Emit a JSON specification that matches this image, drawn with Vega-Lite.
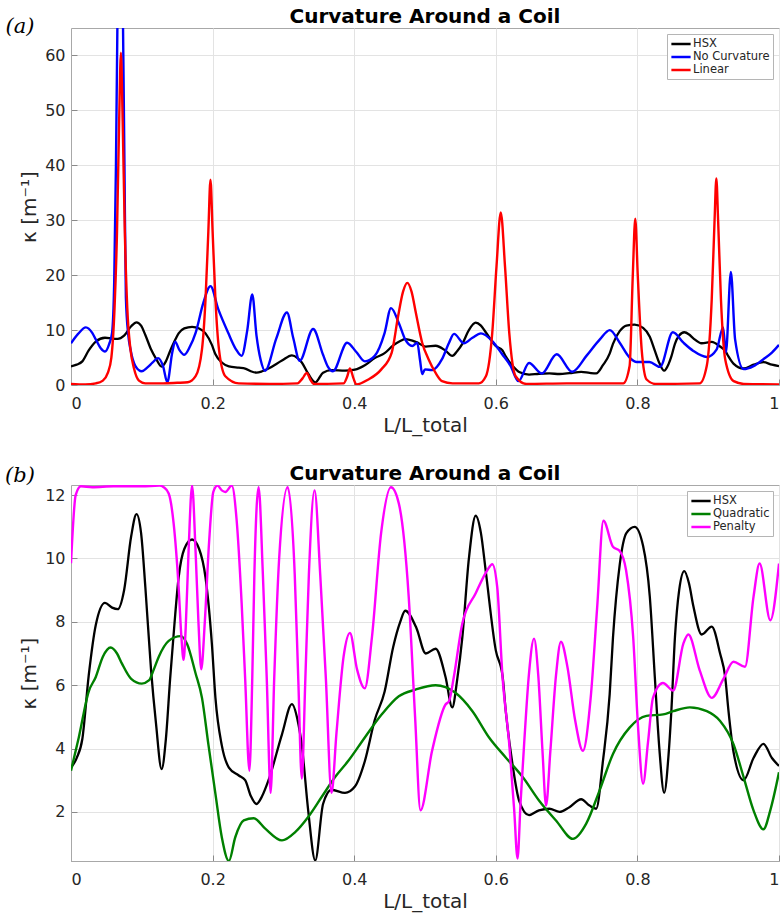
{
 "$schema": "https://vega.github.io/schema/vega-lite/v6.json",
 "background": "white",
 "padding": {"left": 4, "right": 1, "top": 6, "bottom": 3},
 "spacing": 27,
 "config": {
  "font": "DejaVu Sans",
  "view": {"stroke": "#a8a8a8", "strokeWidth": 1},
  "axis": {"labelFont": "DejaVu Sans", "labelFontSize": 16, "labelColor": "#262626", "titleFont": "DejaVu Sans", "titleFontSize": 20, "titleFontWeight": "normal", "titleColor": "#262626", "gridColor": "#e3e3e3", "gridWidth": 1, "domainColor": "#a8a8a8", "tickColor": "#8a8a8a", "tickSize": -6},
  "axisX": {"titlePadding": 4, "labelPadding": 16},
  "axisY": {"titlePadding": 5, "labelPadding": 12},
  "title": {"font": "DejaVu Sans", "fontSize": 20, "fontWeight": "bold", "color": "#000000", "baseline": "alphabetic"},
  "legend": {"orient": "top-right", "offset": 6, "padding": 3, "strokeColor": "#b5b5b5", "fillColor": "white", "labelFont": "DejaVu Sans", "labelFontSize": 11.5, "labelColor": "#262626", "symbolType": "M-1.75,0H1.75", "symbolSize": 121, "symbolStrokeWidth": 2.5, "symbolOffset": 4, "labelOffset": 5, "rowPadding": 0, "cornerRadius": 0}
 },
 "resolve": {"scale": {"color": "independent"}, "legend": {"color": "independent"}},
 "datasets": {
  "hsx": [{"x":0,"y":3.4},{"x":0.008,"y":3.7},{"x":0.016,"y":4.3},{"x":0.025,"y":6.3},{"x":0.035,"y":7.9},{"x":0.048,"y":8.6},{"x":0.058,"y":8.45},{"x":0.066,"y":8.4},{"x":0.075,"y":9.0},{"x":0.085,"y":10.7},{"x":0.0925,"y":11.4},{"x":0.099,"y":10.8},{"x":0.105,"y":9.1},{"x":0.113,"y":6.5},{"x":0.12,"y":4.8},{"x":0.128,"y":3.35},{"x":0.134,"y":4.3},{"x":0.14,"y":6.2},{"x":0.146,"y":7.9},{"x":0.152,"y":9.4},{"x":0.16,"y":10.3},{"x":0.171,"y":10.6},{"x":0.181,"y":10.3},{"x":0.19,"y":9.4},{"x":0.199,"y":7.3},{"x":0.204,"y":5.6},{"x":0.213,"y":4.1},{"x":0.223,"y":3.4},{"x":0.237,"y":3.15},{"x":0.246,"y":3.0},{"x":0.254,"y":2.5},{"x":0.262,"y":2.25},{"x":0.27,"y":2.5},{"x":0.279,"y":3.0},{"x":0.298,"y":4.45},{"x":0.312,"y":5.4},{"x":0.32,"y":4.9},{"x":0.326,"y":4.1},{"x":0.335,"y":2.05},{"x":0.345,"y":0.47},{"x":0.356,"y":2.25},{"x":0.368,"y":2.7},{"x":0.387,"y":2.6},{"x":0.401,"y":2.8},{"x":0.415,"y":3.6},{"x":0.429,"y":4.9},{"x":0.443,"y":5.8},{"x":0.455,"y":7.2},{"x":0.465,"y":8.0},{"x":0.472,"y":8.35},{"x":0.488,"y":7.8},{"x":0.501,"y":7.0},{"x":0.515,"y":7.15},{"x":0.529,"y":6.26},{"x":0.5385,"y":5.3},{"x":0.5456,"y":6.2},{"x":0.5527,"y":7.5},{"x":0.562,"y":10.0},{"x":0.5716,"y":11.35},{"x":0.579,"y":10.8},{"x":0.5858,"y":9.6},{"x":0.6,"y":7.1},{"x":0.6095,"y":6.3},{"x":0.614,"y":5.2},{"x":0.6236,"y":3.5},{"x":0.633,"y":2.35},{"x":0.647,"y":1.9},{"x":0.661,"y":2.05},{"x":0.6757,"y":2.1},{"x":0.69,"y":2.0},{"x":0.704,"y":2.15},{"x":0.7206,"y":2.4},{"x":0.7324,"y":2.2},{"x":0.7418,"y":2.1},{"x":0.7513,"y":3.6},{"x":0.7608,"y":5.7},{"x":0.7655,"y":7.5},{"x":0.775,"y":9.8},{"x":0.7844,"y":10.8},{"x":0.7962,"y":11.0},{"x":0.808,"y":10.4},{"x":0.8175,"y":8.8},{"x":0.8246,"y":6.26},{"x":0.831,"y":4.0},{"x":0.8378,"y":2.6},{"x":0.844,"y":3.8},{"x":0.848,"y":5.2},{"x":0.853,"y":7.5},{"x":0.859,"y":9.0},{"x":0.8662,"y":9.6},{"x":0.873,"y":9.2},{"x":0.879,"y":8.5},{"x":0.8908,"y":7.6},{"x":0.905,"y":7.85},{"x":0.9168,"y":7.0},{"x":0.924,"y":6.26},{"x":0.9286,"y":5.2},{"x":0.9357,"y":3.9},{"x":0.95,"y":3.0},{"x":0.964,"y":3.7},{"x":0.978,"y":4.15},{"x":0.99,"y":3.7},{"x":1.0,"y":3.45}],
  "nocurv": [{"x":0,"y":7.6},{"x":0.01,"y":9.3},{"x":0.021,"y":10.5},{"x":0.03,"y":9.5},{"x":0.035,"y":8.3},{"x":0.042,"y":6.7},{"x":0.048,"y":6.1},{"x":0.054,"y":7.5},{"x":0.058,"y":9.5},{"x":0.061,"y":18.6},{"x":0.0635,"y":40},{"x":0.0655,"y":65},{"x":0.0695,"y":95},{"x":0.0735,"y":65},{"x":0.0755,"y":40},{"x":0.0775,"y":16},{"x":0.081,"y":9},{"x":0.084,"y":6.5},{"x":0.091,"y":3.45},{"x":0.1,"y":2.5},{"x":0.108,"y":3.2},{"x":0.115,"y":4.06},{"x":0.123,"y":4.9},{"x":0.13,"y":3.45},{"x":0.136,"y":0.5},{"x":0.143,"y":5.9},{"x":0.147,"y":7.9},{"x":0.153,"y":6.4},{"x":0.16,"y":5.5},{"x":0.168,"y":7},{"x":0.176,"y":9.5},{"x":0.187,"y":15},{"x":0.197,"y":18},{"x":0.208,"y":13.8},{"x":0.222,"y":9.5},{"x":0.233,"y":6.5},{"x":0.241,"y":5.3},{"x":0.249,"y":10},{"x":0.256,"y":16.5},{"x":0.262,"y":9},{"x":0.268,"y":4.5},{"x":0.274,"y":2.6},{"x":0.29,"y":8.5},{"x":0.305,"y":13.2},{"x":0.314,"y":8.5},{"x":0.323,"y":4.4},{"x":0.342,"y":10.2},{"x":0.356,"y":5.5},{"x":0.363,"y":3.3},{"x":0.37,"y":2.5},{"x":0.39,"y":7.7},{"x":0.403,"y":6},{"x":0.415,"y":4.3},{"x":0.429,"y":5.3},{"x":0.443,"y":9.5},{"x":0.452,"y":14},{"x":0.463,"y":11.3},{"x":0.472,"y":8.3},{"x":0.482,"y":7.1},{"x":0.489,"y":7.7},{"x":0.493,"y":4.5},{"x":0.496,"y":2.0},{"x":0.5,"y":2.85},{"x":0.51,"y":2.7},{"x":0.524,"y":4.7},{"x":0.534,"y":7.7},{"x":0.541,"y":9.3},{"x":0.555,"y":7.6},{"x":0.567,"y":8.6},{"x":0.579,"y":9.4},{"x":0.595,"y":8.0},{"x":0.609,"y":5.6},{"x":0.621,"y":3.45},{"x":0.632,"y":0.7},{"x":0.647,"y":4.0},{"x":0.665,"y":2.1},{"x":0.686,"y":5.6},{"x":0.708,"y":2.4},{"x":0.728,"y":5.3},{"x":0.747,"y":8.3},{"x":0.761,"y":10},{"x":0.775,"y":7.7},{"x":0.789,"y":5.0},{"x":0.799,"y":4.2},{"x":0.817,"y":4.2},{"x":0.832,"y":3.3},{"x":0.85,"y":9.6},{"x":0.865,"y":7.7},{"x":0.879,"y":6.2},{"x":0.898,"y":5.1},{"x":0.912,"y":6.5},{"x":0.921,"y":10.5},{"x":0.925,"y":5.9},{"x":0.932,"y":20.6},{"x":0.938,"y":8.3},{"x":0.95,"y":2.9},{"x":0.964,"y":3.45},{"x":0.978,"y":4.7},{"x":0.99,"y":5.9},{"x":1.0,"y":7.3}],
  "linear": [{"x":0,"y":0.2},{"x":0.02,"y":0.1},{"x":0.035,"y":0.3},{"x":0.045,"y":0.8},{"x":0.052,"y":2.2},{"x":0.057,"y":5},{"x":0.0615,"y":14},{"x":0.065,"y":28},{"x":0.068,"y":48},{"x":0.0705,"y":60.5},{"x":0.073,"y":48},{"x":0.076,"y":28},{"x":0.0795,"y":14},{"x":0.084,"y":6.5},{"x":0.089,"y":3},{"x":0.096,"y":0.8},{"x":0.105,"y":0.3},{"x":0.13,"y":0.3},{"x":0.15,"y":0.4},{"x":0.165,"y":0.5},{"x":0.176,"y":1.6},{"x":0.185,"y":6.5},{"x":0.19,"y":15.6},{"x":0.194,"y":28},{"x":0.197,"y":37.4},{"x":0.2,"y":28},{"x":0.204,"y":15.6},{"x":0.209,"y":6.5},{"x":0.218,"y":1.6},{"x":0.237,"y":0.3},{"x":0.28,"y":0.2},{"x":0.32,"y":0.3},{"x":0.327,"y":1.2},{"x":0.333,"y":2.2},{"x":0.338,"y":1.0},{"x":0.343,"y":0.2},{"x":0.385,"y":0.3},{"x":0.39,"y":1.5},{"x":0.394,"y":3.0},{"x":0.399,"y":1.2},{"x":0.403,"y":0.1},{"x":0.42,"y":1.0},{"x":0.438,"y":2.8},{"x":0.453,"y":5.9},{"x":0.462,"y":12.5},{"x":0.469,"y":17},{"x":0.475,"y":18.6},{"x":0.481,"y":17},{"x":0.487,"y":13.2},{"x":0.496,"y":7.7},{"x":0.505,"y":4.7},{"x":0.515,"y":2.2},{"x":0.524,"y":0.7},{"x":0.539,"y":0.3},{"x":0.576,"y":0.3},{"x":0.586,"y":1.6},{"x":0.595,"y":9.5},{"x":0.601,"y":21.6},{"x":0.607,"y":31.4},{"x":0.613,"y":21.6},{"x":0.619,"y":9.5},{"x":0.628,"y":1.6},{"x":0.643,"y":0.2},{"x":0.7,"y":0.3},{"x":0.78,"y":0.3},{"x":0.789,"y":3.45},{"x":0.7935,"y":20},{"x":0.797,"y":30.3},{"x":0.8005,"y":20},{"x":0.806,"y":6.5},{"x":0.813,"y":1.0},{"x":0.825,"y":0.2},{"x":0.888,"y":0.3},{"x":0.898,"y":3.5},{"x":0.905,"y":15.6},{"x":0.909,"y":30},{"x":0.9115,"y":37.6},{"x":0.914,"y":30},{"x":0.918,"y":15.6},{"x":0.924,"y":4.7},{"x":0.936,"y":0.7},{"x":0.95,"y":0.2},{"x":1.0,"y":0.1}],
  "quad": [{"x":0,"y":3.3},{"x":0.011,"y":4.35},{"x":0.025,"y":5.8},{"x":0.035,"y":6.26},{"x":0.045,"y":6.9},{"x":0.056,"y":7.19},{"x":0.065,"y":7.0},{"x":0.072,"y":6.68},{"x":0.085,"y":6.2},{"x":0.1,"y":6.05},{"x":0.11,"y":6.15},{"x":0.117,"y":6.5},{"x":0.124,"y":6.9},{"x":0.138,"y":7.4},{"x":0.155,"y":7.55},{"x":0.164,"y":7.3},{"x":0.176,"y":6.37},{"x":0.185,"y":5.6},{"x":0.194,"y":4.14},{"x":0.204,"y":2.57},{"x":0.213,"y":1.2},{"x":0.223,"y":0.45},{"x":0.232,"y":1.2},{"x":0.244,"y":1.73},{"x":0.258,"y":1.8},{"x":0.274,"y":1.48},{"x":0.298,"y":1.1},{"x":0.317,"y":1.37},{"x":0.335,"y":1.84},{"x":0.354,"y":2.47},{"x":0.373,"y":3.1},{"x":0.392,"y":3.62},{"x":0.415,"y":4.35},{"x":0.439,"y":5.08},{"x":0.463,"y":5.65},{"x":0.4865,"y":5.86},{"x":0.515,"y":6.0},{"x":0.543,"y":5.76},{"x":0.567,"y":5.18},{"x":0.5905,"y":4.35},{"x":0.614,"y":3.72},{"x":0.638,"y":3.1},{"x":0.661,"y":2.36},{"x":0.685,"y":1.73},{"x":0.709,"y":1.15},{"x":0.7277,"y":1.63},{"x":0.7466,"y":2.68},{"x":0.7655,"y":3.83},{"x":0.789,"y":4.66},{"x":0.8128,"y":5.03},{"x":0.8364,"y":5.08},{"x":0.8506,"y":5.18},{"x":0.874,"y":5.3},{"x":0.898,"y":5.18},{"x":0.9168,"y":4.87},{"x":0.9357,"y":4.14},{"x":0.95,"y":3.1},{"x":0.964,"y":2.05},{"x":0.978,"y":1.45},{"x":0.9877,"y":2.05},{"x":1.0,"y":3.25}],
  "penalty": [{"x":0,"y":9.85},{"x":0.0066,"y":12.0},{"x":0.014,"y":12.28},{"x":0.03,"y":12.25},{"x":0.06,"y":12.28},{"x":0.1,"y":12.28},{"x":0.125,"y":12.3},{"x":0.131,"y":12.25},{"x":0.138,"y":12.05},{"x":0.145,"y":11.1},{"x":0.152,"y":9.1},{"x":0.156,"y":7.5},{"x":0.159,"y":6.8},{"x":0.162,"y":7.8},{"x":0.166,"y":10.2},{"x":0.171,"y":12.3},{"x":0.176,"y":10.2},{"x":0.18,"y":8.0},{"x":0.184,"y":6.5},{"x":0.189,"y":8.0},{"x":0.195,"y":10.5},{"x":0.201,"y":12.1},{"x":0.207,"y":12.3},{"x":0.213,"y":12.15},{"x":0.218,"y":12.1},{"x":0.227,"y":12.3},{"x":0.234,"y":11.2},{"x":0.241,"y":8.6},{"x":0.246,"y":6.2},{"x":0.252,"y":3.3},{"x":0.256,"y":6.2},{"x":0.259,"y":9.5},{"x":0.265,"y":12.25},{"x":0.271,"y":9.5},{"x":0.2765,"y":6.2},{"x":0.282,"y":2.6},{"x":0.287,"y":6.2},{"x":0.294,"y":10.0},{"x":0.306,"y":12.25},{"x":0.316,"y":9.5},{"x":0.321,"y":6.2},{"x":0.326,"y":3.05},{"x":0.331,"y":6.2},{"x":0.336,"y":9.5},{"x":0.344,"y":12.15},{"x":0.352,"y":9.5},{"x":0.36,"y":6.2},{"x":0.368,"y":2.6},{"x":0.375,"y":4.5},{"x":0.385,"y":6.9},{"x":0.394,"y":7.65},{"x":0.404,"y":6.5},{"x":0.415,"y":5.9},{"x":0.425,"y":7.5},{"x":0.438,"y":10.8},{"x":0.452,"y":12.25},{"x":0.463,"y":11.74},{"x":0.477,"y":8.79},{"x":0.486,"y":5.0},{"x":0.4936,"y":2.05},{"x":0.51,"y":3.93},{"x":0.529,"y":5.39},{"x":0.534,"y":5.5},{"x":0.541,"y":6.3},{"x":0.5527,"y":7.95},{"x":0.5716,"y":8.9},{"x":0.588,"y":9.63},{"x":0.595,"y":9.82},{"x":0.602,"y":9.1},{"x":0.6095,"y":6.26},{"x":0.619,"y":4.14},{"x":0.626,"y":2.05},{"x":0.6307,"y":0.53},{"x":0.635,"y":2.3},{"x":0.64,"y":4.14},{"x":0.647,"y":6.4},{"x":0.654,"y":7.47},{"x":0.66,"y":6.3},{"x":0.666,"y":3.9},{"x":0.671,"y":2.2},{"x":0.677,"y":3.9},{"x":0.685,"y":6.3},{"x":0.692,"y":7.37},{"x":0.701,"y":6.6},{"x":0.712,"y":4.9},{"x":0.723,"y":3.93},{"x":0.734,"y":5.6},{"x":0.743,"y":8.4},{"x":0.752,"y":11.19},{"x":0.7655,"y":10.37},{"x":0.775,"y":10.24},{"x":0.784,"y":9.63},{"x":0.794,"y":7.53},{"x":0.801,"y":4.66},{"x":0.808,"y":2.89},{"x":0.815,"y":4.2},{"x":0.822,"y":5.6},{"x":0.836,"y":6.07},{"x":0.8506,"y":5.83},{"x":0.865,"y":7.32},{"x":0.872,"y":7.6},{"x":0.888,"y":6.47},{"x":0.905,"y":5.6},{"x":0.9215,"y":6.2},{"x":0.9357,"y":6.74},{"x":0.952,"y":6.58},{"x":0.964,"y":8.79},{"x":0.9726,"y":9.84},{"x":0.9877,"y":8.05},{"x":1.0,"y":9.84}]
 },
 "vconcat": [
  {
   "width": 708, "height": 357,
   "title": {"text": "Curvature Around a Coil", "offset": -11},
   "layer": [
    {"data": {"name": "hsx"}, "mark": {"type": "line", "interpolate": "monotone", "strokeWidth": 2.3, "clip": true},
     "encoding": {
      "x": {"field": "x", "type": "quantitative", "scale": {"domain": [0, 1], "nice": false, "zero": false}, "axis": {"values": [0, 0.2, 0.4, 0.6, 0.8, 1], "format": "~g", "title": "L/L_total", "grid": true}},
      "y": {"field": "y", "type": "quantitative", "scale": {"domain": [0, 65], "nice": false}, "axis": {"values": [0, 10, 20, 30, 40, 50, 60], "title": "κ [m⁻¹]", "grid": true}},
      "color": {"datum": "HSX", "scale": {"domain": ["HSX", "No Curvature", "Linear"], "range": ["#000000", "#0000ff", "#ff0000"]}, "legend": {"title": null}}}},
    {"data": {"name": "nocurv"}, "mark": {"type": "line", "interpolate": "monotone", "strokeWidth": 2.4, "clip": true},
     "encoding": {
      "x": {"field": "x", "type": "quantitative", "scale": {"domain": [0, 1], "nice": false, "zero": false}},
      "y": {"field": "y", "type": "quantitative", "scale": {"domain": [0, 65], "nice": false}},
      "color": {"datum": "No Curvature"}}},
    {"data": {"name": "linear"}, "mark": {"type": "line", "interpolate": "monotone", "strokeWidth": 2.4, "clip": true},
     "encoding": {
      "x": {"field": "x", "type": "quantitative", "scale": {"domain": [0, 1], "nice": false, "zero": false}},
      "y": {"field": "y", "type": "quantitative", "scale": {"domain": [0, 65], "nice": false}},
      "color": {"datum": "Linear"}}},
    {"data": {"values": [{"label": "(a)"}]}, "mark": {"type": "text", "font": "DejaVu Serif", "fontStyle": "italic", "fontSize": 21, "align": "center", "baseline": "middle", "color": "#000000", "clip": false},
     "encoding": {"x": {"datum": -0.072, "type": "quantitative"}, "y": {"datum": 65.1, "type": "quantitative"}, "text": {"field": "label", "type": "nominal"}}}
   ]
  },
  {
   "width": 708, "height": 376,
   "title": {"text": "Curvature Around a Coil", "offset": -19},
   "layer": [
    {"data": {"name": "hsx"}, "mark": {"type": "line", "interpolate": "monotone", "strokeWidth": 2.3, "clip": true},
     "encoding": {
      "x": {"field": "x", "type": "quantitative", "scale": {"domain": [0, 1], "nice": false, "zero": false}, "axis": {"values": [0, 0.2, 0.4, 0.6, 0.8, 1], "format": "~g", "title": "L/L_total", "grid": true}},
      "y": {"field": "y", "type": "quantitative", "scale": {"domain": [0.45, 12.32], "nice": false, "zero": false}, "axis": {"values": [2, 4, 6, 8, 10, 12], "title": "κ [m⁻¹]", "grid": true}},
      "color": {"datum": "HSX", "scale": {"domain": ["HSX", "Quadratic", "Penalty"], "range": ["#000000", "#008000", "#ff00ff"]}, "legend": {"title": null}}}},
    {"data": {"name": "quad"}, "mark": {"type": "line", "interpolate": "monotone", "strokeWidth": 2.4, "clip": true},
     "encoding": {
      "x": {"field": "x", "type": "quantitative", "scale": {"domain": [0, 1], "nice": false, "zero": false}},
      "y": {"field": "y", "type": "quantitative", "scale": {"domain": [0.45, 12.32], "nice": false, "zero": false}},
      "color": {"datum": "Quadratic"}}},
    {"data": {"name": "penalty"}, "mark": {"type": "line", "interpolate": "monotone", "strokeWidth": 2.4, "clip": true},
     "encoding": {
      "x": {"field": "x", "type": "quantitative", "scale": {"domain": [0, 1], "nice": false, "zero": false}},
      "y": {"field": "y", "type": "quantitative", "scale": {"domain": [0.45, 12.32], "nice": false, "zero": false}},
      "color": {"datum": "Penalty"}}},
    {"data": {"values": [{"label": "(b)"}]}, "mark": {"type": "text", "font": "DejaVu Serif", "fontStyle": "italic", "fontSize": 21, "align": "center", "baseline": "middle", "color": "#000000", "clip": false},
     "encoding": {"x": {"datum": -0.072, "type": "quantitative"}, "y": {"datum": 12.6, "type": "quantitative"}, "text": {"field": "label", "type": "nominal"}}}
   ]
  }
 ]
}
